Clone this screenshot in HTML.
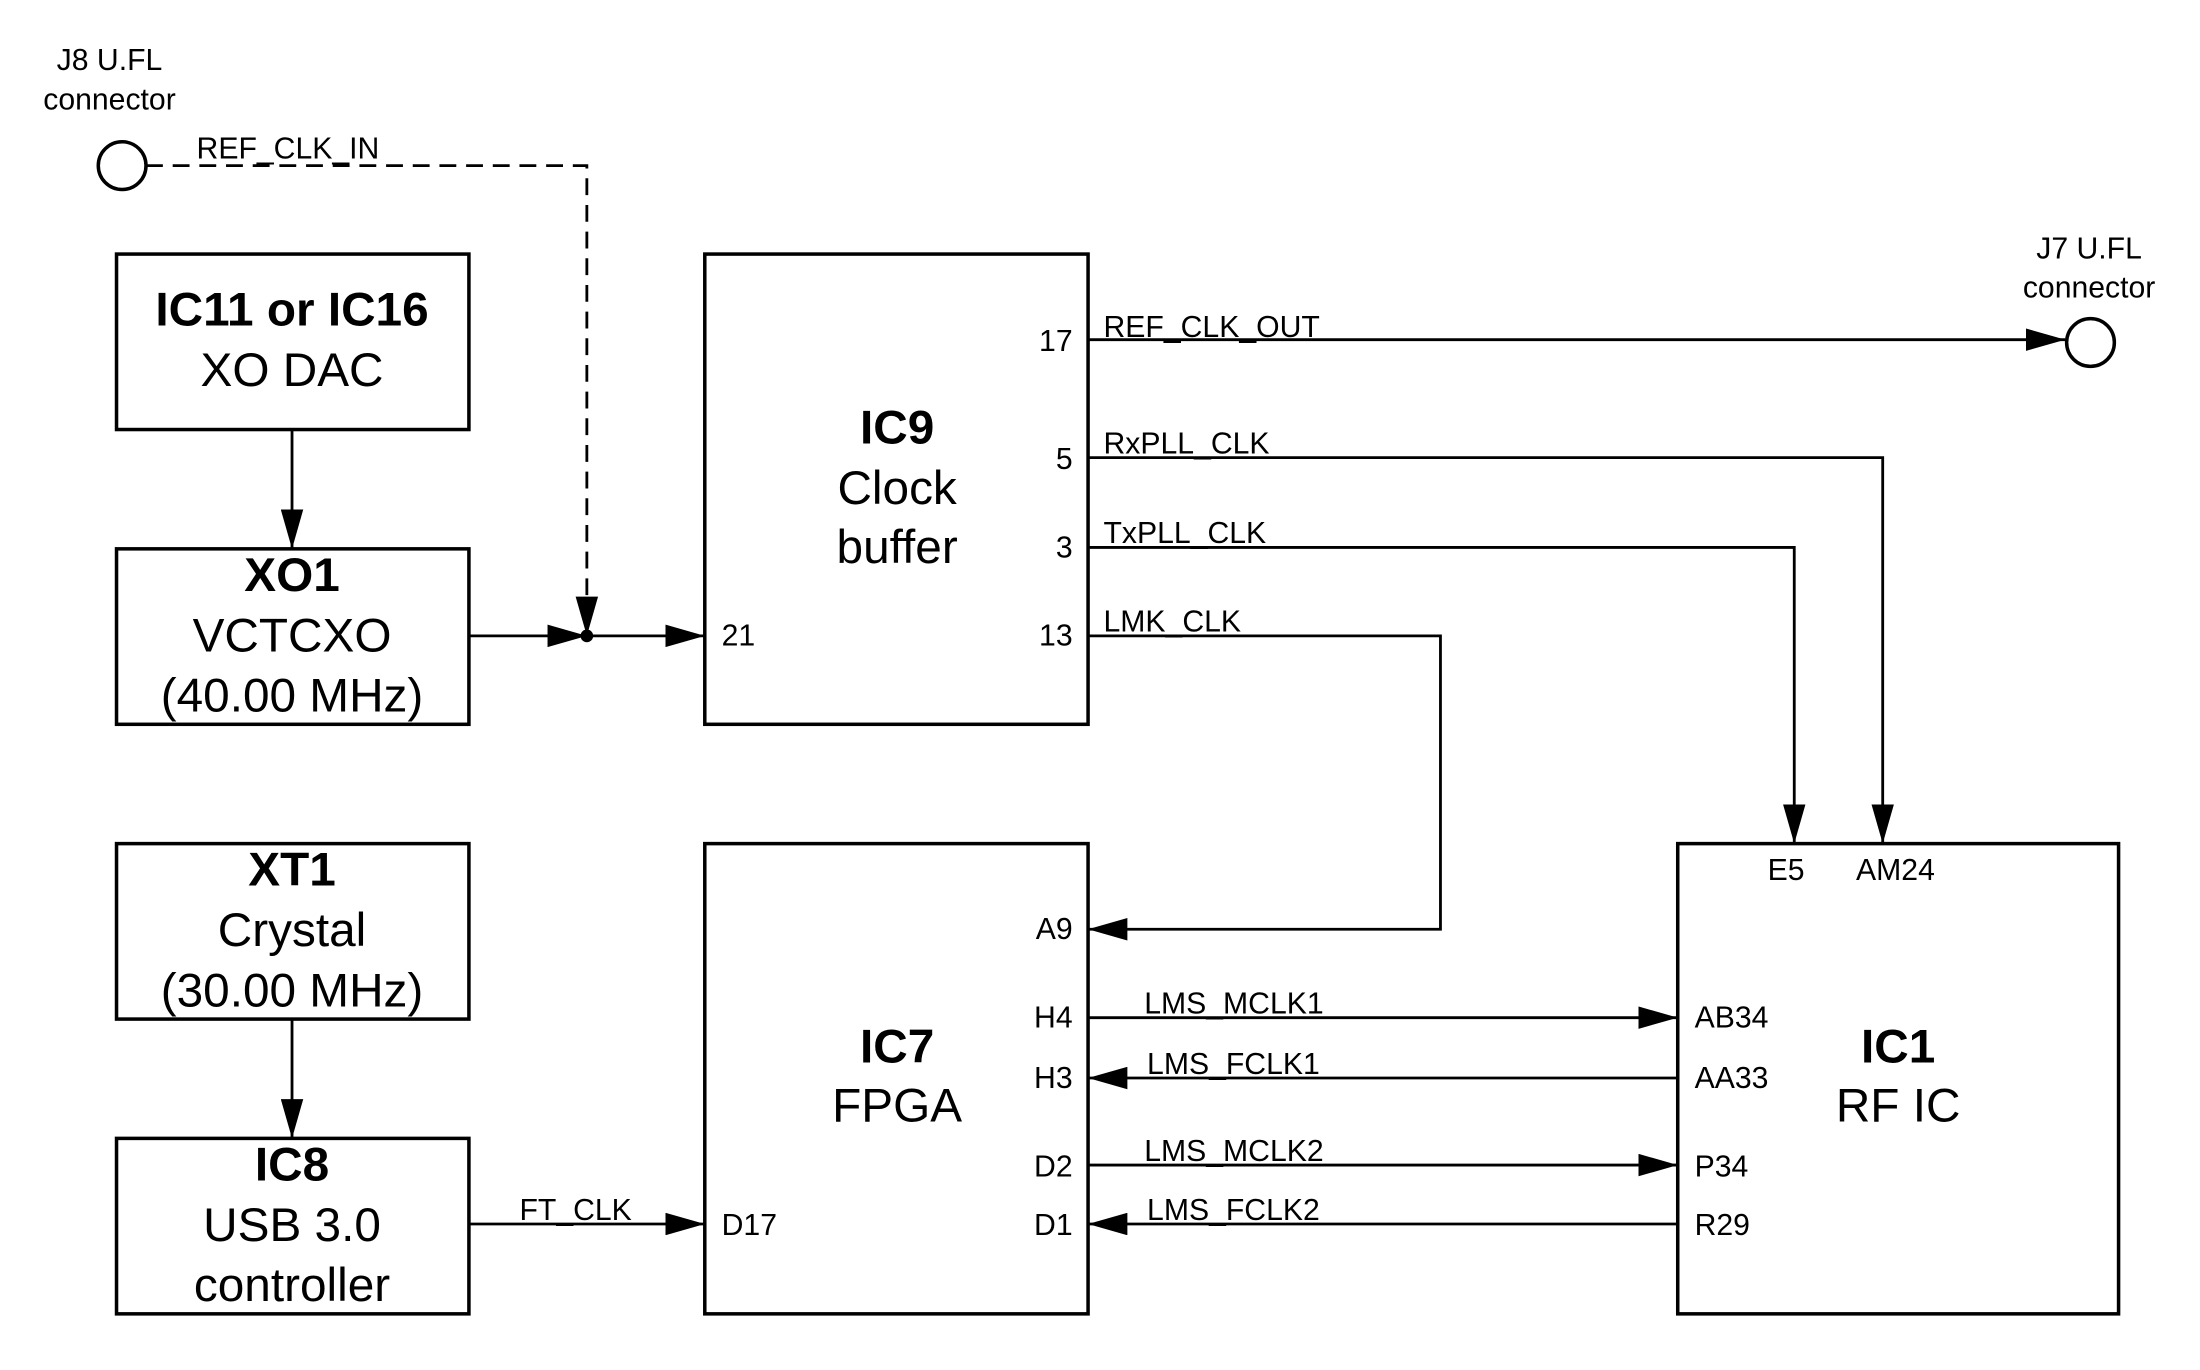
<!DOCTYPE html>
<html><head><style>html,body{margin:0;padding:0;background:#fff}svg{display:block}</style></head><body>
<svg width="2200" height="1370" viewBox="0 0 1567 976" preserveAspectRatio="none" xmlns="http://www.w3.org/2000/svg" font-family="Liberation Sans, Arial, sans-serif">
<defs>
<marker id="b" viewBox="0 0 28 16" refX="28" refY="8" markerWidth="28" markerHeight="16" markerUnits="userSpaceOnUse" orient="auto"><path d="M0,0 L28,8 L0,16z" fill="#000"/></marker></defs>
<g fill="none" stroke="#000" stroke-width="2.5">
<rect x="83" y="181" width="251" height="125"/>
<rect x="83" y="391" width="251" height="125"/>
<rect x="83" y="601" width="251" height="125"/>
<rect x="83" y="811" width="251" height="125"/>
<rect x="502" y="181" width="273" height="335"/>
<rect x="502" y="601" width="273" height="335"/>
<rect x="1195" y="601" width="314" height="335"/>
<circle cx="87" cy="118" r="17"/>
<circle cx="1489" cy="244" r="17"/>
</g>
<g fill="none" stroke="#000" stroke-width="2">
<path d="M104,118 H418 V453" stroke-dasharray="12,7" marker-end="url(#b)"/>
<path d="M334,453 H418" marker-end="url(#b)"/>
<path d="M418,453 H502" marker-end="url(#b)"/>
<path d="M208,306 V391" marker-end="url(#b)"/>
<path d="M208,726 V811" marker-end="url(#b)"/>
<path d="M775,242 H1471" marker-end="url(#b)"/>
<path d="M775,326 H1341 V601" marker-end="url(#b)"/>
<path d="M775,390 H1278 V601" marker-end="url(#b)"/>
<path d="M775,453 H1026 V662 H775" marker-end="url(#b)"/>
<path d="M775,725 H1195" marker-end="url(#b)"/>
<path d="M1195,768 H775" marker-end="url(#b)"/>
<path d="M775,830 H1195" marker-end="url(#b)"/>
<path d="M1195,872 H775" marker-end="url(#b)"/>
<path d="M334,872 H502" marker-end="url(#b)"/>
</g>
<circle cx="418" cy="453" r="4.5" fill="#000"/>
<g font-size="21.5" fill="#000">
<text x="78" y="50" text-anchor="middle">J8 U.FL</text>
<text x="78" y="78" text-anchor="middle">connector</text>
<text x="1488" y="184" text-anchor="middle">J7 U.FL</text>
<text x="1488" y="212" text-anchor="middle">connector</text>
<text x="140" y="113">REF_CLK_IN</text>
<text x="786" y="240">REF_CLK_OUT</text>
<text x="786" y="323">RxPLL_CLK</text>
<text x="786" y="387">TxPLL_CLK</text>
<text x="786" y="450">LMK_CLK</text>
<text x="815" y="722">LMS_MCLK1</text>
<text x="817" y="765">LMS_FCLK1</text>
<text x="815" y="827">LMS_MCLK2</text>
<text x="817" y="869">LMS_FCLK2</text>
<text x="370" y="869">FT_CLK</text>
<g text-anchor="end">
<text x="764" y="250">17</text><text x="764" y="334">5</text><text x="764" y="397">3</text><text x="764" y="460">13</text>
<text x="764" y="669">A9</text><text x="764" y="732">H4</text><text x="764" y="775">H3</text><text x="764" y="838">D2</text><text x="764" y="880">D1</text>
</g>
<text x="514" y="460">21</text><text x="514" y="880">D17</text>
<text x="1207" y="732">AB34</text><text x="1207" y="775">AA33</text><text x="1207" y="838">P34</text><text x="1207" y="880">R29</text>
<text x="1259" y="627">E5</text><text x="1322" y="627">AM24</text>
</g>
<g font-size="34" fill="#000" text-anchor="middle">
<text x="208" y="232" font-weight="bold">IC11 or IC16</text><text x="208" y="275">XO DAC</text>
<text x="208" y="421" font-weight="bold">XO1</text><text x="208" y="464">VCTCXO</text><text x="208" y="507">(40.00 MHz)</text>
<text x="208" y="631" font-weight="bold">XT1</text><text x="208" y="674">Crystal</text><text x="208" y="717">(30.00 MHz)</text>
<text x="208" y="841" font-weight="bold">IC8</text><text x="208" y="884">USB 3.0</text><text x="208" y="927">controller</text>
<text x="639" y="316" font-weight="bold">IC9</text><text x="639" y="359">Clock</text><text x="639" y="401">buffer</text>
<text x="639" y="757" font-weight="bold">IC7</text><text x="639" y="799">FPGA</text>
<text x="1352" y="757" font-weight="bold">IC1</text><text x="1352" y="799">RF IC</text>
</g>
</svg>
</body></html>
